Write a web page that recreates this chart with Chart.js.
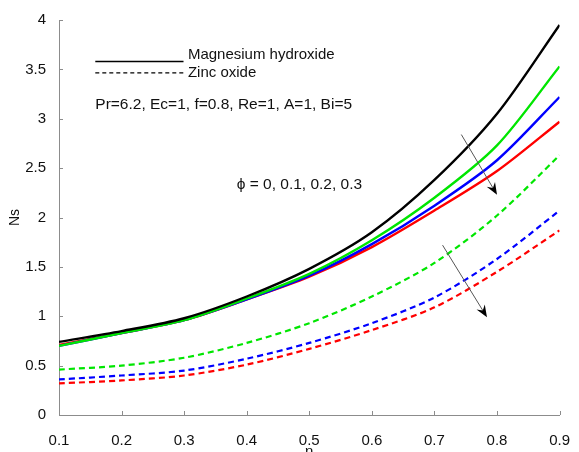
<!DOCTYPE html>
<html lang="en">
<head>
    <meta charset="UTF-8">
    <title>Ns vs eta</title>
    <script src="https://cdn.jsdelivr.net/npm/chart.js"></script>
    <style>
        html, body { margin: 0; padding: 0; overflow: hidden; background: #fff; }
        #wrap { width: 579px; height: 470px; }
    </style>
</head>
<body>
    <div id="wrap"><canvas id="nsChart"></canvas></div>

    <script>
        // data
        const eta = [0.1, 0.2, 0.3, 0.4, 0.5, 0.6, 0.7, 0.8, 0.9];
        const xTicks = [0.1, 0.2, 0.3, 0.4, 0.5, 0.6, 0.7, 0.8, 0.9];
        const yTicks = [0, 0.5, 1, 1.5, 2, 2.5, 3, 3.5, 4];

        // Magnesium hydroxide (solid), phi = 0, 0.1, 0.2, 0.3
        const mgPhi0 = [0.74, 0.85, 0.98, 1.20, 1.48, 1.85, 2.38, 3.05, 3.95];
        const mgPhi1 = [0.70, 0.83, 0.96, 1.18, 1.43, 1.77, 2.20, 2.73, 3.53];
        const mgPhi2 = [0.70, 0.83, 0.96, 1.17, 1.41, 1.73, 2.12, 2.58, 3.22];
        const mgPhi3 = [0.71, 0.83, 0.96, 1.17, 1.40, 1.70, 2.07, 2.47, 2.97];

        // Zinc oxide (dashed), phi = 0.1, 0.2, 0.3
        const znPhi1 = [0.46, 0.50, 0.58, 0.73, 0.93, 1.20, 1.54, 2.02, 2.63];
        const znPhi2 = [0.36, 0.40, 0.45, 0.57, 0.73, 0.93, 1.19, 1.58, 2.07];
        const znPhi3 = [0.32, 0.35, 0.40, 0.51, 0.67, 0.86, 1.09, 1.45, 1.87];

        const FONT = "'Liberation Sans', Arial, sans-serif";
        const AXIS = '#8c8c8c';

        function pts(ys) {
            return eta.map((x, i) => ({ x: x, y: ys[i] }));
        }

        function line(data, color, dashed) {
            return {
                data: pts(data),
                borderColor: color,
                borderWidth: dashed ? 2.2 : 2.4,
                borderDash: dashed ? [6, 4] : [],
                pointRadius: 0,
                fill: false,
                tension: 0.3
            };
        }

        // text / legend / arrows, placed in data units
        const notes = {
            solidKey: [0.158, 0.299, 3.58],
            dashKey: [0.158, 0.299, 3.465],
            mgText: [0.306, 3.645, 'Magnesium hydroxide'],
            znText: [0.306, 3.46, 'Zinc oxide'],
            params: [0.158, 3.14, 'Pr=6.2, Ec=1, f=0.8, Re=1, A=1, Bi=5'],
            phiText: [0.384, 2.33, '\u03d5 = 0, 0.1, 0.2, 0.3'],
            arrows: [[0.743, 2.84, 0.80, 2.23], [0.713, 1.72, 0.784, 0.99]]
        };

        const decor = {
            id: 'decor',
            afterDraw(chart) {
                const ctx = chart.ctx;
                const xs = chart.scales.x, ys = chart.scales.y;
                const area = chart.chartArea;
                ctx.save();

                // inward ticks
                ctx.strokeStyle = AXIS;
                ctx.lineWidth = 1;
                ctx.beginPath();
                xTicks.forEach(v => {
                    const px = Math.round(xs.getPixelForValue(v)) + 0.5;
                    ctx.moveTo(px, area.bottom);
                    ctx.lineTo(px, area.bottom - 4);
                });
                yTicks.forEach(v => {
                    const py = Math.round(ys.getPixelForValue(v)) + 0.5;
                    ctx.moveTo(area.left, py);
                    ctx.lineTo(area.left + 4, py);
                });
                ctx.stroke();

                // legend keys
                ctx.strokeStyle = '#000';
                ctx.lineWidth = 1.5;
                ctx.beginPath();
                ctx.moveTo(xs.getPixelForValue(notes.solidKey[0]), ys.getPixelForValue(notes.solidKey[2]));
                ctx.lineTo(xs.getPixelForValue(notes.solidKey[1]), ys.getPixelForValue(notes.solidKey[2]));
                ctx.stroke();
                ctx.setLineDash([4, 3]);
                ctx.lineWidth = 1.2;
                ctx.beginPath();
                ctx.moveTo(xs.getPixelForValue(notes.dashKey[0]), ys.getPixelForValue(notes.dashKey[2]));
                ctx.lineTo(xs.getPixelForValue(notes.dashKey[1]), ys.getPixelForValue(notes.dashKey[2]));
                ctx.stroke();
                ctx.setLineDash([]);

                // labels
                ctx.fillStyle = '#111';
                ctx.textBaseline = 'middle';
                ctx.textAlign = 'left';
                ctx.font = '15px ' + FONT;
                [notes.mgText, notes.znText].forEach(t => {
                    ctx.fillText(t[2], xs.getPixelForValue(t[0]), ys.getPixelForValue(t[1]));
                });
                ctx.font = '15.5px ' + FONT;
                [notes.params, notes.phiText].forEach(t => {
                    ctx.fillText(t[2], xs.getPixelForValue(t[0]), ys.getPixelForValue(t[1]));
                });

                // arrows
                notes.arrows.forEach(a => {
                    const x1 = xs.getPixelForValue(a[0]), y1 = ys.getPixelForValue(a[1]);
                    const x2 = xs.getPixelForValue(a[2]), y2 = ys.getPixelForValue(a[3]);
                    const ang = Math.atan2(y2 - y1, x2 - x1);
                    ctx.strokeStyle = '#555';
                    ctx.lineWidth = 1;
                    ctx.beginPath();
                    ctx.moveTo(x1, y1);
                    ctx.lineTo(x2 - 6 * Math.cos(ang), y2 - 6 * Math.sin(ang));
                    ctx.stroke();
                    ctx.fillStyle = '#000';
                    ctx.beginPath();
                    ctx.moveTo(x2, y2);
                    ctx.lineTo(x2 - 13 * Math.cos(ang - 0.38), y2 - 13 * Math.sin(ang - 0.38));
                    ctx.lineTo(x2 - 8 * Math.cos(ang), y2 - 8 * Math.sin(ang));
                    ctx.lineTo(x2 - 13 * Math.cos(ang + 0.38), y2 - 13 * Math.sin(ang + 0.38));
                    ctx.closePath();
                    ctx.fill();
                });

                ctx.restore();
            }
        };

        new Chart(document.getElementById('nsChart'), {
            type: 'line',
            data: {
                datasets: [
                    line(mgPhi0, '#000000', false),
                    line(mgPhi1, '#00e600', false),
                    line(mgPhi2, '#0000ff', false),
                    line(mgPhi3, '#ff0000', false),
                    line(znPhi1, '#00e600', true),
                    line(znPhi2, '#0000ff', true),
                    line(znPhi3, '#ff0000', true)
                ]
            },
            options: {
                responsive: true,
                maintainAspectRatio: false,
                animation: false,
                layout: { padding: { top: 20, right: 13, left: 0, bottom: 0 } },
                plugins: { legend: { display: false }, tooltip: { enabled: false } },
                scales: {
                    x: {
                        type: 'linear',
                        min: 0.1,
                        max: 0.9,
                        afterBuildTicks: s => { s.ticks = xTicks.map(v => ({ value: v })); },
                        afterFit: s => { s.height = 55; },
                        grid: { display: false },
                        border: { display: true, color: AXIS, width: 1 },
                        ticks: {
                            color: '#111',
                            padding: 9,
                            maxRotation: 0,
                            font: { family: FONT, size: 15 },
                            callback: v => (+v).toFixed(1)
                        },
                        title: {
                            display: true,
                            text: '\u03b7',
                            color: '#111',
                            padding: { top: 9, bottom: 9 },
                            font: { family: FONT, size: 15 }
                        }
                    },
                    y: {
                        min: 0,
                        max: 4,
                        afterBuildTicks: s => { s.ticks = yTicks.map(v => ({ value: v })); },
                        afterFit: s => { s.width = 59; },
                        grid: { display: false },
                        border: { display: true, color: AXIS, width: 1 },
                        ticks: {
                            color: '#111',
                            padding: 5,
                            font: { family: FONT, size: 15 },
                            callback: v => String(v)
                        },
                        title: {
                            display: true,
                            text: 'Ns',
                            color: '#111',
                            padding: { top: 7, bottom: 7 },
                            font: { family: FONT, size: 14 }
                        }
                    }
                }
            },
            plugins: [decor]
        });
    </script>
</body>
</html>
